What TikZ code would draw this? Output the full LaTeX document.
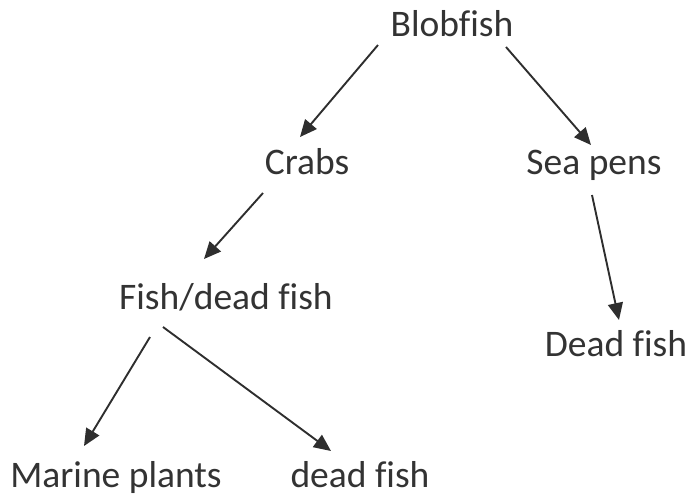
\documentclass[tikz,border=0pt]{standalone}
\usepackage{fontspec}
\setmainfont{Carlito}[Ligatures=NoCommon]
\usetikzlibrary{arrows.meta}
\definecolor{ink}{HTML}{2E2E2E}
\definecolor{txt}{HTML}{333333}
\tikzset{
  lbl/.style={inner sep=0pt, anchor=base, text=txt, font=\fontsize{37.5}{45}\selectfont},
  arr/.style={draw=ink, line width=1.9pt, -{Triangle[length=17pt,width=15pt]}}
}
\begin{document}
\begin{tikzpicture}[x=1pt,y=-1pt]
\useasboundingbox (0,0) rectangle (689,501);
\node[lbl] (blob) at (452,36) {Blobfish};
\node[lbl] (crabs) at (307,174) {Crabs};
\node[lbl] (seapens) at (594,174) {Sea pens};
\node[lbl] (fish) at (226,309) {Fish/dead fish};
\node[lbl] (dead1) at (616,356) {Dead fish};
\node[lbl] (marine) at (116,487) {Marine plants};
\node[lbl] (dead2) at (360,487) {dead fish};
\coordinate (b1) at (378,45);
\coordinate (c1) at (300,137);
\coordinate (b2) at (506,47);
\coordinate (s1) at (591,145);
\coordinate (c2) at (263,193);
\coordinate (f1) at (204,259);
\coordinate (s2) at (592,195);
\coordinate (d1) at (619,320);
\coordinate (f2) at (150,337);
\coordinate (m1) at (84,446);
\coordinate (f3) at (163,327);
\coordinate (d2) at (331,451);
\draw[arr] (b1) -- (c1);
\draw[arr] (b2) -- (s1);
\draw[arr] (c2) -- (f1);
\draw[arr] (s2) -- (d1);
\draw[arr] (f2) -- (m1);
\draw[arr] (f3) -- (d2);
\end{tikzpicture}
\end{document}
